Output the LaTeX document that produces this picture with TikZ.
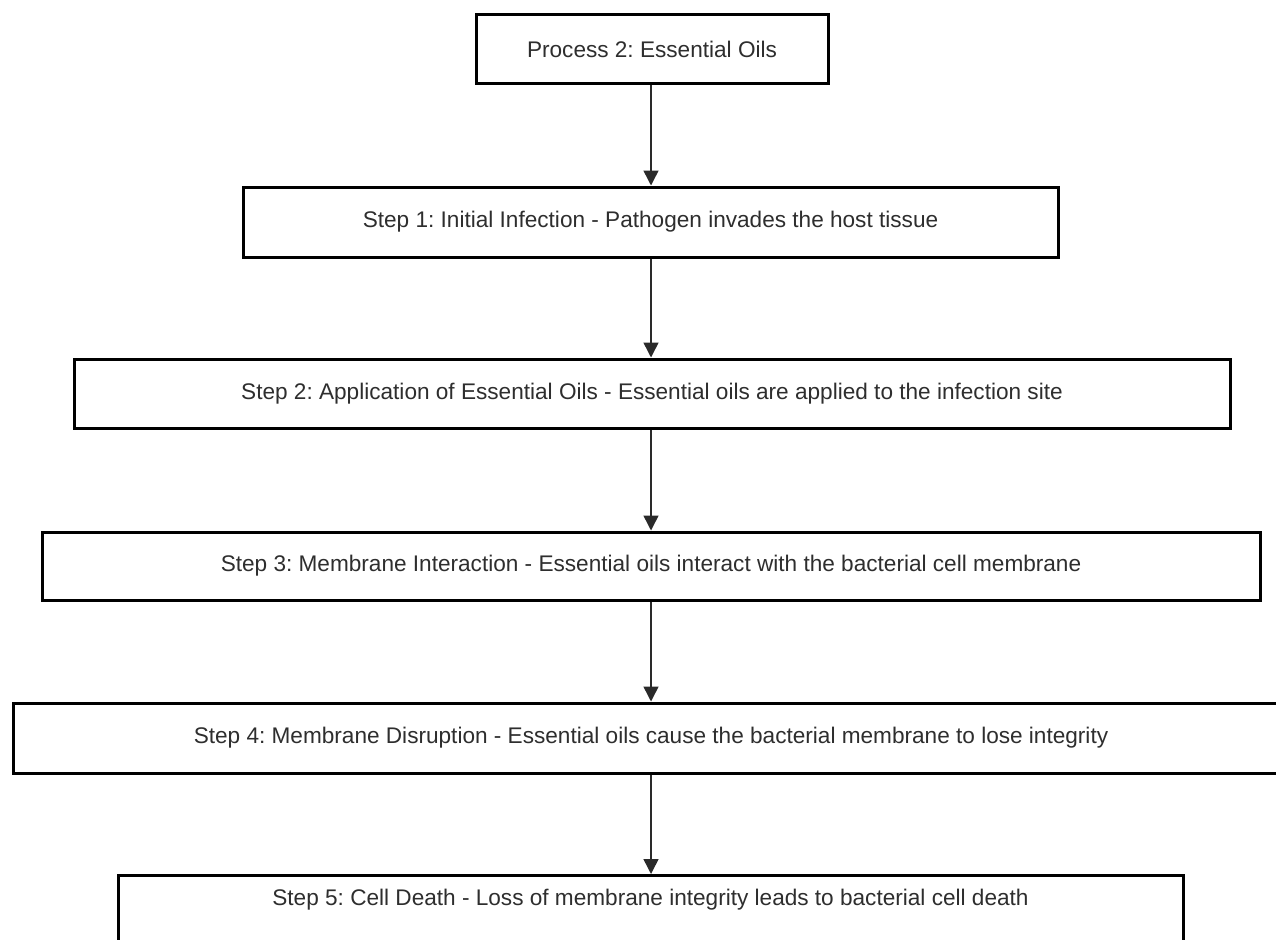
\documentclass[tikz,border=0pt]{standalone}
\usepackage{fontspec}
\setmainfont{Liberation Sans}
\usetikzlibrary{arrows.meta}
\definecolor{txtgray}{HTML}{2E2E2E}
\definecolor{arrgray}{HTML}{2A2A2A}
\tikzset{
  stepbox/.style={draw=black, line width=3pt, fill=white, rectangle, inner sep=0pt,
    text=txtgray, font=\fontsize{22.6}{26}\selectfont\frenchspacing},
  flow/.style={draw=arrgray, line width=1.5pt, -{Triangle[width=15pt,length=15pt]}},
  lbl/.style={text=txtgray, font=\fontsize{22.6}{26}\selectfont\frenchspacing, inner sep=0pt}
}
\begin{document}
\begin{tikzpicture}[x=1pt,y=-1pt]
\useasboundingbox (0,0) rectangle (1276,939);
\node[stepbox, minimum width=352pt, minimum height=69pt] (b0) at (652,49.5) {Process 2: Essential Oils};
\node[stepbox, minimum width=815pt, minimum height=70pt] (b1) at (650.5,222) {Step 1: Initial Infection - Pathogen invades the host tissue};
\node[stepbox, minimum width=1156pt, minimum height=69pt] (b2) at (652,393.5) {Step 2: Application of Essential Oils - Essential oils are applied to the infection site};
\node[stepbox, minimum width=1218pt, minimum height=68pt] (b3) at (651,566) {Step 3: Membrane Interaction - Essential oils interact with the bacterial cell membrane};
\node[stepbox, minimum width=1276pt, minimum height=70pt] (b4) at (651,738) {Step 4: Membrane Disruption - Essential oils cause the bacterial membrane to lose integrity};
\node[stepbox, minimum width=1065pt, minimum height=80pt, anchor=north] (b5) at (650.5,874) {};
\node[lbl] (t5) at (650.5,900) {Step 5: Cell Death - Loss of membrane integrity leads to bacterial cell death};
\coordinate (ax) at (651,0);
\draw[flow] (b0.south -| ax) -- (b1.north -| ax);
\draw[flow] (b1.south -| ax) -- (b2.north -| ax);
\draw[flow] (b2.south -| ax) -- (b3.north -| ax);
\draw[flow] (b3.south -| ax) -- (b4.north -| ax);
\draw[flow] (b4.south -| ax) -- (b5.north -| ax);
\end{tikzpicture}
\end{document}
